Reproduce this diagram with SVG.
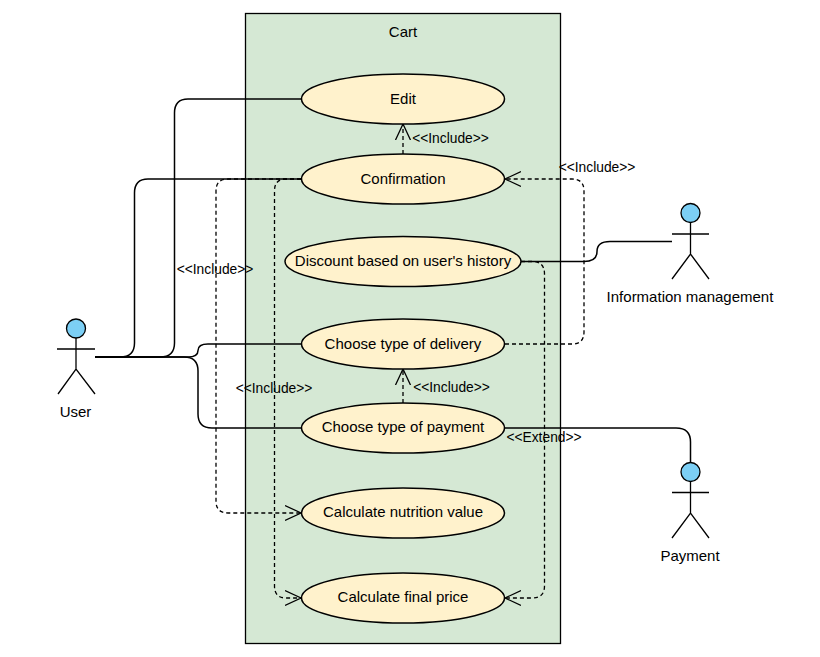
<svg xmlns="http://www.w3.org/2000/svg" width="820" height="657" viewBox="0 0 820 657">
<style>
text{font-family:"Liberation Sans",Arial,sans-serif;fill:#000}
.n{font-size:15px;text-anchor:middle}
.l{font-size:13.800px;text-anchor:middle}
.u{fill:#fff2cc;stroke:#000;stroke-width:1.5}
.c{fill:none;stroke:#000;stroke-width:1.5}
.d{fill:none;stroke:#000;stroke-width:1.3;stroke-dasharray:4 3;marker-end:url(#o)}
.a{fill:none;stroke:#000;stroke-width:1.3}
.h{fill:#7ccff5;stroke:#000;stroke-width:1.3}
</style>
<defs>
<marker id="o" markerUnits="userSpaceOnUse" markerWidth="18" markerHeight="18" refX="16" refY="9" orient="auto">
<path d="M0 1.500L16 9L0 16.500" fill="none" stroke="#000" stroke-width="1.300" stroke-dasharray="none"/>
</marker>
</defs>
<rect id="cart" x="245.500" y="13.500" width="315" height="630" fill="#d5e8d4" stroke="#000" stroke-width="1.300"/>
<text class="n" x="403" y="37">Cart</text>
<g id="connectors">
<path class="c" d="M95 357H160Q174.500 357 174.500 343V113Q174.500 99 188 99H301"/>
<path class="c" d="M95 357H120Q134.500 357 134.500 343V193Q134.500 179 148 179H301"/>
<path class="c" d="M95 357H188Q198 357 198 350.500Q198 344 208 344H301"/>
<path class="c" d="M95 357H184Q198 357 198 371V414Q198 428 212 428H301"/>
<path class="c" d="M521 261.500H584Q597 261.500 597 251.500Q597 241.500 610 241.500H672"/>
<path class="c" d="M505 428H676Q690.500 428 690.500 442V462"/>
<path class="d" d="M403 154V124"/>
<path class="d" d="M403 403V369"/>
<path class="d" d="M301 179H228Q216 179 216 191V501Q216 513 228 513H301"/>
<path class="d" d="M301 179H286Q274.500 179 274.500 191V586Q274.500 598 286 598H301"/>
<path class="d" d="M505 344H572Q584 344 584 332V191Q584 179 572 179H505"/>
<path class="d" d="M521 261.500H532Q544.500 261.500 544.500 274V586Q544.500 598 532 598H505"/>
</g>
<g id="edit"><ellipse class="u" cx="403" cy="99" rx="101.500" ry="25"/><text class="n" x="403" y="104">Edit</text></g>
<g id="confirmation"><ellipse class="u" cx="403" cy="179" rx="101.500" ry="25"/><text class="n" x="403" y="184">Confirmation</text></g>
<g id="discount"><ellipse class="u" cx="403" cy="261.500" rx="118" ry="25"/><text class="n" x="403" y="266">Discount based on user's history</text></g>
<g id="delivery"><ellipse class="u" cx="403" cy="344" rx="101.500" ry="25"/><text class="n" x="403" y="349">Choose type of delivery</text></g>
<g id="payment-case"><ellipse class="u" cx="403" cy="428" rx="101.500" ry="25"/><text class="n" x="403" y="432">Choose type of payment</text></g>
<g id="nutrition"><ellipse class="u" cx="403" cy="513" rx="101.500" ry="25"/><text class="n" x="403" y="517">Calculate nutrition value</text></g>
<g id="final"><ellipse class="u" cx="403" cy="598" rx="101.500" ry="25"/><text class="n" x="403" y="602">Calculate final price</text></g>
<g id="user"><circle class="h" cx="76" cy="328.500" r="9.500"/><path class="a" d="M76 338V369M57 349H95M58 394L76 369L95 394"/><text class="n" x="75.500" y="417">User</text></g>
<g id="information"><circle class="h" cx="690.500" cy="213" r="9.500"/><path class="a" d="M690.500 222.500V254M672 234H709M672 279L690.500 254L709 279"/><text class="n" x="690" y="302">Information management</text></g>
<g id="payment"><circle class="h" cx="690.500" cy="472" r="9.500"/><path class="a" d="M690.500 481.500V513M672 492.500H709M672 538L690.500 513L709 538"/><text class="n" x="690" y="561">Payment</text></g>
<g id="labels">
<text class="l" x="450.500" y="143">&lt;&lt;Include&gt;&gt;</text>
<text class="l" x="597" y="172">&lt;&lt;Include&gt;&gt;</text>
<text class="l" x="215" y="274">&lt;&lt;Include&gt;&gt;</text>
<text class="l" x="274" y="393">&lt;&lt;Include&gt;&gt;</text>
<text class="l" x="451.500" y="392">&lt;&lt;Include&gt;&gt;</text>
<text class="l" x="544" y="442">&lt;&lt;Extend&gt;&gt;</text>
</g>
</svg>
